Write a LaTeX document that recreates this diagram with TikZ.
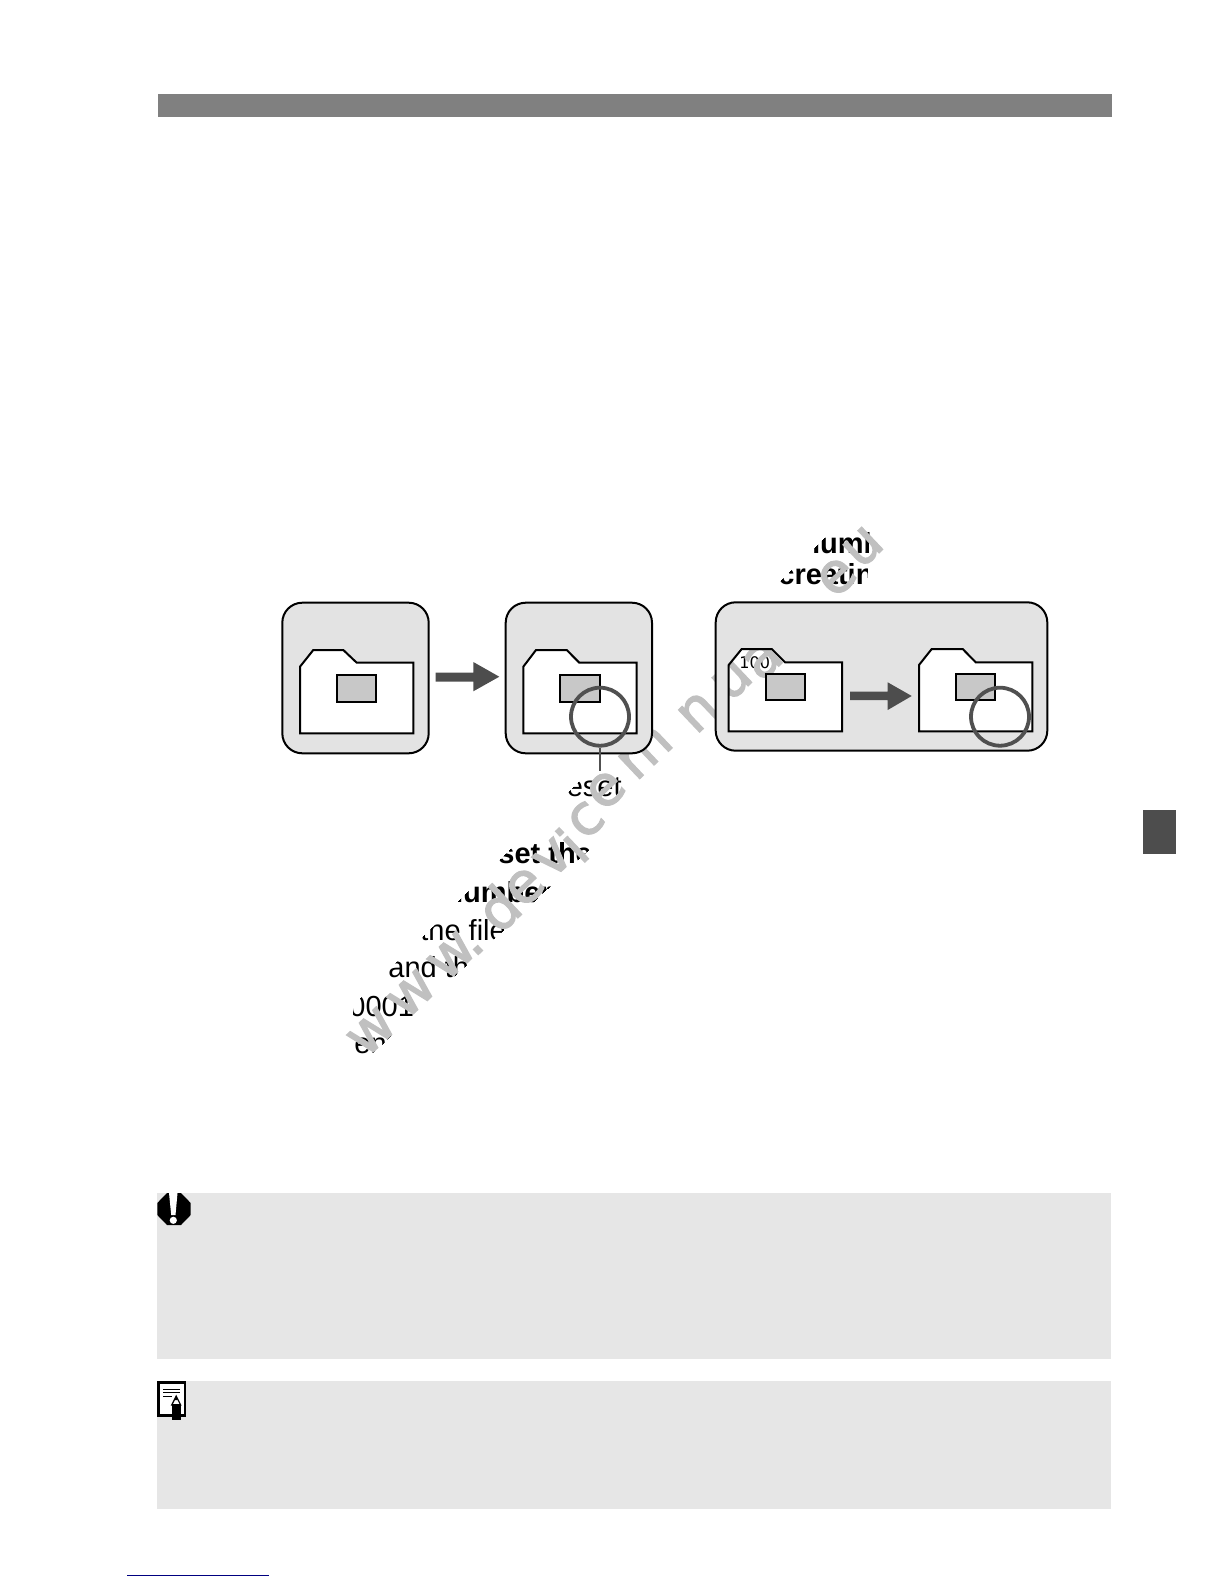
\documentclass[tikz,border=0pt]{standalone}
\usepackage{fontspec}
\setmainfont{Liberation Sans}
\newfontfamily\wmfont[FakeBold=2.2]{DejaVu Sans}
\newfontfamily\smallfont{DejaVu Sans}
\definecolor{barc}{HTML}{808080}
\definecolor{tabc}{HTML}{4D4D4D}
\definecolor{panelc}{HTML}{E6E6E6}
\definecolor{boxc}{HTML}{E3E3E3}
\definecolor{innerc}{HTML}{C8C8C8}
\definecolor{arrc}{HTML}{4D4D4D}
\definecolor{ringc}{HTML}{505050}
\definecolor{wmc}{HTML}{C0C0C0}
\definecolor{linkc}{HTML}{000080}
\tikzset{
  body/.style={font=\fontsize{14.5}{16}\selectfont, inner sep=0pt, text=black},
  bodyb/.style={font=\fontsize{14.5}{16}\selectfont\bfseries, inner sep=0pt, text=black},
  wm/.style={font=\wmfont\fontsize{28}{28}\selectfont, inner sep=0pt, text=wmc, rotate=43.5, anchor=center},
  outline/.style={draw=black, line width=1pt, line join=miter},
  innerbox/.style={draw=black, line width=1pt, fill=innerc},
  bigarrow/.style={fill=arrc, draw=none},
  mark ring/.style={circle, draw=ringc, line width=1.9pt, minimum size=29pt, inner sep=0pt},
}
\begin{document}
\begin{tikzpicture}[x=0.5pt,y=-0.5pt]
\useasboundingbox (0,0) rectangle (1224,1584);
% header and side tab
\fill[barc] (157.5,94) rectangle (1112,117);
\fill[tabc] (1143,810) rectangle (1175.5,854);
% panels
\fill[panelc] (157,1193) rectangle (1111,1358.5);
\fill[panelc] (157,1381) rectangle (1111,1508.5);
% link underline
\draw[linkc, line width=0.75pt] (127,1575.5) -- (269,1575.5);
% warning icon
\fill[black] (167,1193) -- (181,1193) -- (190.7,1203) -- (190.7,1215) -- (181,1225) -- (167,1225) -- (157.3,1215) -- (157.3,1203) -- cycle;
\fill[white] (169,1193) -- (177.5,1193) -- (175.5,1215) -- (171.2,1215) -- cycle;
\fill[white] (173.3,1220.3) circle[radius=3.6];
% note icon
\draw[black, line width=1.25pt, fill=white] (158.5,1382.5) rectangle (185,1415.5);
\draw[black, line width=0.7pt] (163,1389.3) -- (179.5,1389.3) (163,1392.6) -- (179.5,1392.6) (163,1396.3) -- (172,1396.3);
\draw[black, line width=0.6pt, fill=white] (176.2,1396) -- (171.7,1405) -- (180.7,1405) -- cycle;
\fill[black] (171.7,1404) rectangle (180.7,1420);
\fill[black] (176.2,1396) -- (174.6,1400) -- (177.8,1400) -- cycle;
% clipped text, lower group
\begin{scope}
\clip (353,1065) -- (353,1005) -- (585,775) -- (668,775) -- (360,1065) -- cycle;
\node[body, anchor=base east] (t1) at (622,796) {eset};
\node[bodyb, anchor=base west] (t2) at (498,863) {set the};
\node[bodyb, anchor=base west] (t3) at (445,902) {number};
\node[body, anchor=base west] (t4) at (420,940) {the file};
\node[body, anchor=base west] (t5) at (388,977) {and the};
\node[body, anchor=base west] (t6) at (349,1016) {0001};
\node[body, anchor=base west] (t7) at (354,1053) {ent};
\end{scope}
% clipped text, upper group
\begin{scope}
\clip (838,525) -- (870,525) -- (866,595) -- (765,595) -- cycle;
\node[bodyb, anchor=base west] (t8) at (802,553) {numb};
\node[bodyb, anchor=base west] (t9) at (778,584) {creatin};
\end{scope}
\node[font=\smallfont\fontsize{8}{10}\selectfont, inner sep=0pt, anchor=base west] (t10) at (739,668) {100};
% watermark
\node[wm] (w1) at (372,1032) {w};
\node[wm] (w2) at (412,994) {w};
\node[wm] (w3) at (452,956) {w};
\node[wm] (w4) at (478,950) {.};
\node[wm] (w5) at (498,908) {d};
\node[wm] (w6) at (525,887) {e};
\node[wm] (w7) at (553,858) {v};
\node[wm] (w8) at (572,845) {i};
\node[wm] (w9) at (586,820) {c};
\node[wm] (w10) at (606,790) {e};
\node[wm] (w11) at (645,752) {m};
\node[wm] (w12) at (698,712) {n};
\node[wm] (w13) at (732,680) {u};
\node[wm] (w14) at (763,660) {a};
\node[wm] (w15) at (837,577) {e};
\node[wm] (w16) at (863,547) {u};
% rounded panels with folder-shaped openings
\fill[boxc, even odd rule] [rounded corners=10pt] (282.3,602.7) rectangle (428.7,753.3) [sharp corners]
  (300,666.7) -- (313.3,650) -- (343.3,650) -- (356.7,662.7) -- (413.3,662.7) -- (413.3,733.3) -- (300,733.3) -- cycle;
\fill[boxc, even odd rule] [rounded corners=10pt] (505.7,602.7) rectangle (652,753.3) [sharp corners]
  (523.3,666.7) -- (536,650) -- (566.7,650) -- (579.3,662.7) -- (636.7,662.7) -- (636.7,733.3) -- (523.3,733.3) -- cycle;
\fill[boxc, even odd rule] [rounded corners=10pt] (715.7,602.3) rectangle (1047.3,750.7) [sharp corners]
  (728.7,665) -- (741.7,649) -- (771.7,649) -- (785,662.3) -- (842,662.3) -- (842,731.3) -- (728.7,731.3) -- cycle
  (919,665) -- (931.7,649) -- (962.7,649) -- (975.7,662.3) -- (1032.3,662.3) -- (1032.3,731.3) -- (919,731.3) -- cycle;
% outlines
\draw[outline, rounded corners=10pt] (282.3,602.7) rectangle (428.7,753.3);
\draw[outline, rounded corners=10pt] (505.7,602.7) rectangle (652,753.3);
\draw[outline, rounded corners=10pt] (715.7,602.3) rectangle (1047.3,750.7);
\draw[outline] (300,666.7) -- (313.3,650) -- (343.3,650) -- (356.7,662.7) -- (413.3,662.7) -- (413.3,733.3) -- (300,733.3) -- cycle;
\draw[outline] (523.3,666.7) -- (536,650) -- (566.7,650) -- (579.3,662.7) -- (636.7,662.7) -- (636.7,733.3) -- (523.3,733.3) -- cycle;
\draw[outline] (728.7,665) -- (741.7,649) -- (771.7,649) -- (785,662.3) -- (842,662.3) -- (842,731.3) -- (728.7,731.3) -- cycle;
\draw[outline] (919,665) -- (931.7,649) -- (962.7,649) -- (975.7,662.3) -- (1032.3,662.3) -- (1032.3,731.3) -- (919,731.3) -- cycle;
% inner rectangles
\draw[innerbox] (337,675.3) rectangle (376.3,701.7);
\draw[innerbox] (560.3,675.3) rectangle (600,701.7);
\draw[innerbox] (766,673.7) rectangle (805,700);
\draw[innerbox] (956,673.7) rectangle (995,700);
% arrows
\fill[bigarrow] (435.7,672.7) -- (473.3,672.7) -- (473.3,662) -- (499.3,676.7) -- (473.3,691.3) -- (473.3,681.7) -- (435.7,681.7) -- cycle;
\fill[bigarrow] (850,691.7) -- (887.7,691.7) -- (887.7,682.3) -- (911.7,696) -- (887.7,710) -- (887.7,700) -- (850,700) -- cycle;
% rings and leader
\node[mark ring] (c2) at (600,716.7) {};
\node[mark ring] (c4) at (1000,716.7) {};
\coordinate (l2) at (600,770.7);
\draw[ringc, line width=0.7pt] (c2.south) -- (l2);
\end{tikzpicture}
\end{document}
